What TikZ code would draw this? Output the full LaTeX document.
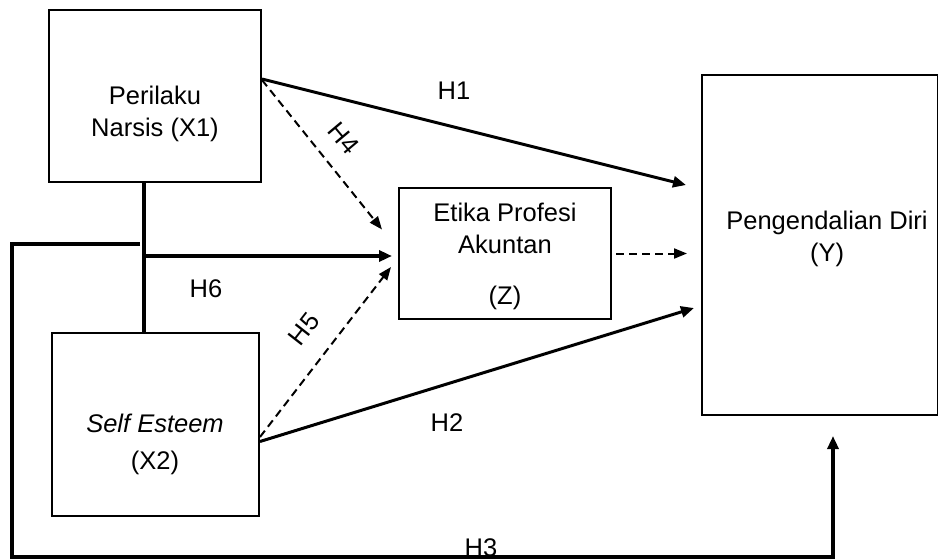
\documentclass[tikz,border=0pt]{standalone}
\usepackage{fontspec}
\setmainfont{Liberation Sans}
\usetikzlibrary{arrows.meta, positioning, calc}

\begin{document}
\begin{tikzpicture}[x=1pt, y=-1pt,
        box/.style={draw, line width=2pt, inner sep=0pt},
        txt/.style={align=center, font=\fontsize{25.5}{32}\selectfont},
        hyp/.style={font=\fontsize{25.5}{30}\selectfont, inner sep=0pt},
        arr/.style={-{Triangle[length=13pt, width=11pt]}, line width=3pt},
        darr/.style={-{Triangle[length=13pt, width=10pt]}, line width=2pt,
                     dash pattern=on 8pt off 5pt},
        thk/.style={line width=4.5pt}
      ]
        \useasboundingbox (0,0) rectangle (938,560);
        \node[box, minimum width=212pt, minimum height=172pt] (x1) at (155,96) {};
        \node[box, minimum width=207pt, minimum height=183pt] (x2) at (155.5,424.5) {};
        \node[box, minimum width=212pt, minimum height=131pt] (z) at (505,253.5) {};
        \node[box, minimum width=236pt, minimum height=340pt] (y) at (820,245) {};
        \node[txt] (x1txt) at (155,114) {Perilaku\\Narsis (X1)};
        \node[txt, font=\fontsize{25.5}{37}\selectfont] (x2txt) at (155,444)
          {\emph{Self Esteem}\\(X2)};
        \node[txt] (ztxt) at (505,256) {Etika Profesi\\Akuntan\\[19pt](Z)};
        \node[txt] (ytxt) at (827,239) {Pengendalian Diri\\(Y)};
        \coordinate (j) at (144,256);
        \coordinate (h3a) at (140,244);
        \coordinate (h3b) at (12,557);
        \draw[thk] ([xshift=-11pt]x1.south) -- ([xshift=-11.5pt]x2.north);
        \draw[arr, thk] (j) -- (j -| z.west) [shorten >=6pt];
        \draw[arr, thk] (h3a) -| (h3b) -| ([xshift=13pt, yshift=-20pt]y.south);
        \draw[arr] ([yshift=17pt]x1.east) -- ([xshift=-15pt, yshift=60pt]y.west);
        \draw[arr] ([yshift=-17pt]x2.east) -- ([xshift=-7pt, yshift=-63pt]y.west);
        \draw[darr] ([yshift=16pt]x1.east) -- ([xshift=-16pt, yshift=24pt]z.west);
        \draw[darr] ([yshift=-12.5pt]x2.east) -- ([xshift=-7pt, yshift=-13.5pt]z.west);
        \draw[darr] ([xshift=4pt]z.east) -- ([xshift=-14pt]z.east -| y.west);
        \node[hyp] (h1) at (454,91) {H1};
        \node[hyp, rotate=-50] (h4) at (344,138) {H4};
        \node[hyp] (h6) at (206,289) {H6};
        \node[hyp, rotate=52] (h5) at (304,329) {H5};
        \node[hyp] (h2) at (447,423) {H2};
        \node[hyp] (h3) at (481,548) {H3};
      \end{tikzpicture}
\end{document}
